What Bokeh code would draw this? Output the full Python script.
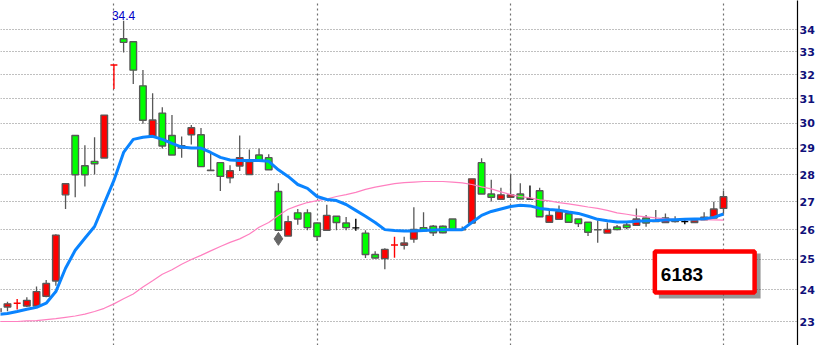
import math
from bokeh.plotting import figure
from bokeh.models import (ColumnDataSource, FixedTicker, Range1d, Grid, Label,
                          BoxAnnotation, NumeralTickFormatter)
from bokeh.embed import file_html
from bokeh.resources import INLINE

# ---------------- data ----------------
opens = [23.30, 23.45, 23.57, 23.48, 23.48, 23.79, 24.28, 27.25, 29.50, 28.33,
         28.50, 28.63, 32.42, 33.58, 33.45, 31.53, 29.46, 30.40, 29.50, 29.01,
         29.53, 29.53, 28.16, 28.45, 27.88, 28.32, 28.00, 28.74, 28.64, 27.37,
         25.79, 26.60, 26.60, 26.24, 25.99, 26.48, 26.24, 26.07, 25.89, 25.16,
         25.02, 25.48, 25.47, 25.68, 26.08, 26.13, 26.13, 26.38, 26.01, 26.24,
         28.45, 27.28, 27.09, 27.16, 27.28, 27.10, 27.40, 26.27, 26.37, 26.57,
         26.38, 26.27, 26.01, 25.89, 26.10, 26.17, 26.16, 26.42, 26.30, 26.26,
         26.29, 26.29, 26.26, 26.35, 26.42, 26.76]
highs = [23.45, 23.62, 23.70, 23.76, 24.10, 24.31, 25.85, 27.68, 29.50, 29.12,
         29.43, 30.32, 32.42, 34.40, 33.45, 32.21, 31.22, 30.64, 30.32, 29.46,
         29.92, 29.80, 28.86, 28.45, 28.35, 29.50, 28.95, 28.99, 28.77, 27.68,
         26.50, 26.74, 26.73, 26.26, 26.89, 26.48, 26.45, 26.39, 25.99, 25.27,
         25.37, 25.76, 25.76, 26.80, 26.62, 26.17, 26.15, 26.38, 26.12, 27.84,
         28.62, 27.81, 27.51, 28.00, 27.68, 27.59, 27.51, 26.73, 26.86, 26.67,
         26.38, 26.27, 26.33, 26.26, 26.17, 26.26, 26.76, 26.52, 26.70, 26.58,
         26.48, 26.35, 26.42, 26.62, 27.00, 27.40]
lows = [23.22, 23.32, 23.37, 23.45, 23.45, 23.76, 24.13, 26.74, 27.16, 27.56,
        28.00, 28.63, 31.40, 32.97, 31.61, 29.97, 29.46, 28.99, 28.74, 28.64,
        29.15, 28.28, 28.15, 27.39, 27.68, 28.13, 28.00, 28.50, 28.18, 25.99,
        25.79, 26.18, 25.99, 25.62, 25.99, 25.99, 25.99, 25.97, 25.04, 25.02,
        24.67, 25.05, 25.33, 25.56, 25.97, 25.79, 25.88, 26.02, 25.99, 26.24,
        27.28, 27.01, 27.09, 27.16, 27.10, 27.10, 26.46, 26.27, 26.37, 26.27,
        26.10, 25.79, 25.56, 25.89, 25.99, 26.02, 26.16, 26.11, 26.29, 26.26,
        26.26, 26.20, 26.26, 26.35, 26.42, 26.57]
closes = [23.40, 23.55, 23.57, 23.66, 23.94, 24.20, 25.82, 27.66, 27.99, 27.99,
          28.41, 30.32, 32.42, 33.42, 32.20, 30.11, 30.12, 29.09, 28.74, 29.10,
          29.81, 28.30, 28.15, 27.93, 28.14, 28.64, 28.48, 28.51, 28.18, 25.99,
          26.29, 26.38, 26.08, 25.77, 26.51, 26.26, 26.08, 26.07, 25.16, 25.04,
          25.33, 25.48, 25.55, 26.02, 25.97, 25.90, 25.90, 26.02, 26.00, 27.84,
          27.28, 27.16, 27.25, 27.25, 27.10, 27.10, 26.46, 26.51, 26.64, 26.27,
          26.22, 25.92, 26.00, 26.02, 26.01, 26.08, 26.38, 26.24, 26.29, 26.42,
          26.30, 26.29, 26.33, 26.45, 26.74, 27.18]
ma_fast = [23.22, 23.25, 23.31, 23.38, 23.44, 23.57, 23.94, 24.70, 25.30, 25.71,
           26.12, 26.94, 27.78, 28.84, 29.35, 29.43, 29.47, 29.35, 29.19, 29.05,
           29.01, 29.01, 28.84, 28.65, 28.55, 28.53, 28.53, 28.53, 28.50, 28.18,
           27.93, 27.63, 27.49, 27.19, 27.08, 27.04, 26.90, 26.69, 26.48, 26.26,
           26.01, 25.98, 25.96, 25.96, 25.98, 26.00, 26.01, 26.01, 26.01, 26.26,
           26.51, 26.65, 26.74, 26.83, 26.87, 26.85, 26.76, 26.72, 26.69, 26.63,
           26.58, 26.48, 26.37, 26.32, 26.28, 26.28, 26.30, 26.32, 26.33, 26.35,
           26.36, 26.37, 26.38, 26.39, 26.44, 26.56]
ma_slow = [23.00, 23.00, 23.00, 23.02, 23.03, 23.06, 23.09, 23.13, 23.17, 23.23,
           23.31, 23.41, 23.55, 23.71, 23.86, 24.09, 24.29, 24.50, 24.65, 24.83,
           24.99, 25.13, 25.28, 25.43, 25.57, 25.69, 25.86, 26.09, 26.26, 26.51,
           26.73, 26.86, 26.97, 27.04, 27.10, 27.19, 27.26, 27.34, 27.45, 27.53,
           27.60, 27.66, 27.70, 27.72, 27.74, 27.74, 27.74, 27.72, 27.69, 27.63,
           27.54, 27.47, 27.36, 27.26, 27.19, 27.14, 27.07, 27.03, 26.97, 26.92,
           26.87, 26.81, 26.76, 26.69, 26.60, 26.55, 26.49, 26.46, 26.42, 26.39,
           26.37, 26.36, 26.36, 26.36, 26.35, 26.34]
month_start_idx = [12, 33, 53, 75]
event_idx = [29]
event_price = [25.69]
volume_label = "6183"
y_ticks = [23, 24, 25, 26, 27, 28, 29, 30, 31, 32, 33, 34]

# ---------------- layout constants ----------------
W, H = 817, 345
RIGHT = 18
FRAME_W = W - RIGHT
X0, X1 = 0.278, 82.65
Y0, Y1 = 22.273, 35.346

def px_x(px):  # figure px -> data x
    return X0 + px / FRAME_W * (X1 - X0)

def px_y(py):  # figure px -> price (log scale)
    l0, l1 = math.log(Y0), math.log(Y1)
    return math.exp(l1 - py / H * (l1 - l0))

n = len(opens)
xs = list(range(n))

RED = "#ff0000"
GREEN = "#00ff00"
EDGE = "#585858"

body = dict(x=[], top=[], bottom=[], fill=[])
wick = dict(x=[], hi=[], lo=[])
cross_v = dict(x=[], hi=[], lo=[], c=[])
cross_h = dict(x0=[], x1=[], y=[], c=[])
for i in range(n):
    o, h, l, c = opens[i], highs[i], lows[i], closes[i]
    if o == c:
        prev = closes[i - 1] if i > 0 else c
        col = RED if c > prev else "#000000"
        cross_v["x"].append(i); cross_v["hi"].append(h); cross_v["lo"].append(l); cross_v["c"].append(col)
        cross_h["x0"].append(i - 0.36); cross_h["x1"].append(i + 0.36); cross_h["y"].append(c); cross_h["c"].append(col)
    else:
        wick["x"].append(i); wick["hi"].append(h); wick["lo"].append(l)
        body["x"].append(i); body["top"].append(max(o, c)); body["bottom"].append(min(o, c))
        body["fill"].append(RED if c > o else GREEN)

p = figure(width=W, height=H, x_range=Range1d(X0, X1), y_range=Range1d(Y0, Y1),
           y_axis_type="log", y_axis_location="right", x_axis_location=None,
           toolbar_location=None, output_backend="svg",
           min_border_left=0, min_border_top=0, min_border_bottom=0, min_border_right=RIGHT)
p.outline_line_color = None
p.background_fill_color = "white"
p.grid.visible = False

hgrid = Grid(dimension=1, ticker=FixedTicker(ticks=y_ticks),
             grid_line_color="#808080", grid_line_dash="1 2", grid_line_width=1)
vgrid = Grid(dimension=0, ticker=FixedTicker(ticks=month_start_idx),
             grid_line_color="#707070", grid_line_dash="2 3", grid_line_width=1.2)
p.add_layout(hgrid)
p.add_layout(vgrid)

ax = p.yaxis[0]
ax.ticker = FixedTicker(ticks=y_ticks)
ax.formatter = NumeralTickFormatter(format="0")
ax.major_tick_line_color = None
ax.minor_tick_line_color = None
ax.major_tick_out = 0
ax.major_tick_in = 0
ax.major_label_standoff = 2
ax.axis_line_color = "black"
ax.axis_line_width = 1.2
ax.major_label_text_font = "DejaVu Sans"
ax.major_label_text_font_style = "bold"
ax.major_label_text_font_size = "11px"
ax.major_label_text_color = "#10107a"

p.segment(x0="x", y0="hi", x1="x", y1="lo", source=ColumnDataSource(wick),
          line_color=EDGE, line_width=1.3)
p.vbar(x="x", top="top", bottom="bottom", width=0.68, source=ColumnDataSource(body),
       fill_color="fill", line_color=EDGE, line_width=1.4)
p.segment(x0="x", y0="hi", x1="x", y1="lo", source=ColumnDataSource(cross_v),
          line_color="c", line_width=1.4)
p.segment(x0="x0", y0="y", x1="x1", y1="y", source=ColumnDataSource(cross_h),
          line_color="c", line_width=1.4)
p.scatter(x=event_idx, y=event_price, marker="diamond", size=13,
          fill_color="#666666", line_color="#666666")

p.line(xs, ma_slow, line_color="#ff80c0", line_width=1.2)
p.line(xs, ma_fast, line_color="#0a84ff", line_width=3)

imax = max(range(n), key=lambda k: highs[k])
p.add_layout(Label(x=imax, y=highs[imax], text=f"{highs[imax]:.1f}", text_align="center",
                   text_baseline="alphabetic", y_offset=5, text_font="Liberation Sans",
                   text_font_size="12px", text_color="#0000c8"))

# volume box
p.add_layout(BoxAnnotation(left=px_x(660), right=px_x(762), top=px_y(253), bottom=px_y(298),
                           fill_color="#303030", fill_alpha=0.5, line_color=None, line_alpha=0))
p.add_layout(BoxAnnotation(left=px_x(656), right=px_x(756), top=px_y(251), bottom=px_y(292),
                           fill_color="white", fill_alpha=1.0, line_color=RED, line_alpha=1.0,
                           line_width=4.5))
p.add_layout(Label(x=px_x(662), y=px_y(274), text=volume_label, text_align="left",
                   text_baseline="alphabetic", text_font="Liberation Sans",
                   text_font_style="bold", text_font_size="19px", text_color="black"))

open("out.html", "w").write(file_html(p, INLINE))
